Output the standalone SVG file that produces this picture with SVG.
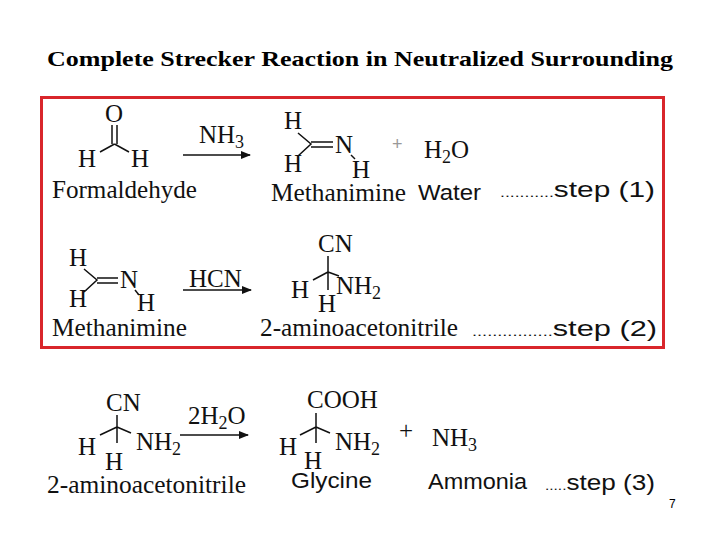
<svg xmlns="http://www.w3.org/2000/svg" width="720" height="540" viewBox="0 0 720 540">
<style>
.t{font-family:"Liberation Serif",serif;font-size:25px;fill:#111}
.s{font-family:"Liberation Sans",sans-serif;font-size:22px;fill:#111}
.b{stroke:#111;stroke-width:1.5;fill:none}
.a{stroke:#111;stroke-width:1.5;marker-end:url(#ar)}
</style>
<defs><marker id="ar" markerWidth="10" markerHeight="8" refX="9" refY="4" orient="auto" markerUnits="userSpaceOnUse"><path d="M0,0L10,4L0,8z" fill="#111"/></marker></defs>
<rect width="720" height="540" fill="#fff"/>
<text x="47" y="66" textLength="626" lengthAdjust="spacingAndGlyphs" style="font-family:'Liberation Serif',serif;font-size:22px;font-weight:bold">Complete Strecker Reaction in Neutralized Surrounding</text>
<rect x="41.5" y="97.5" width="622" height="250" fill="none" stroke="#d9262b" stroke-width="3"/>
<g id="connectors">
<line class="a" x1="183" y1="155" x2="250" y2="155"/>
<line class="a" x1="183" y1="290" x2="251" y2="290"/>
<line class="a" x1="180" y1="435" x2="248" y2="435"/>
</g>
<g id="formaldehyde">
<text class="t" x="105" y="122">O</text>
<path class="b" d="M112,125V144M117,125V144M114.5,144L100,152M114.5,144L129,152"/>
<text class="t" x="78" y="167">H</text><text class="t" x="131" y="167">H</text>
<text class="t" x="52" y="198" textLength="145" lengthAdjust="spacingAndGlyphs">Formaldehyde</text>
</g>
<text class="t" x="199" y="143">NH<tspan font-size="18" dy="5">3</tspan></text>
<g id="methanimine1">
<text class="t" x="284" y="129">H</text><text class="t" x="284" y="172">H</text>
<path class="b" d="M298,133L311,144L298,156M311,142H333M311,147H333"/>
<text class="t" x="335" y="153">N</text><text class="t" x="352" y="178">H</text>
<path class="b" d="M351,155L355,159"/>
<text class="t" x="271" y="201" textLength="135" lengthAdjust="spacingAndGlyphs">Methanimine</text>
</g>
<text x="392" y="150" style="font-family:'Liberation Sans',sans-serif;font-size:18px;fill:#999">+</text>
<g id="water"><text class="t" x="424" y="158">H<tspan font-size="18" dy="5">2</tspan><tspan dy="-5">O</tspan></text>
<text class="s" x="418" y="200" textLength="63" lengthAdjust="spacingAndGlyphs">Water</text></g>
<text class="s" x="500" y="197" textLength="155" lengthAdjust="spacingAndGlyphs"><tspan font-size="13">...........</tspan>step (1)</text>
<g id="methanimine2">
<text class="t" x="69" y="266">H</text><text class="t" x="69" y="307">H</text>
<path class="b" d="M84,269L97,280L84,292M97,278H118M97,283H118"/>
<text class="t" x="120" y="288">N</text><text class="t" x="137" y="311">H</text>
<path class="b" d="M135,290L139,295"/>
<text class="t" x="52" y="336" textLength="135" lengthAdjust="spacingAndGlyphs">Methanimine</text>
</g>
<text class="t" x="189" y="287">HCN</text>
<g id="aminoacetonitrile1">
<text class="t" x="318" y="252">CN</text>
<path class="b" d="M328,256V272M328,272L313,280M328,272L339,276M328,272V290"/>
<text class="t" x="291" y="298">H</text><text class="t" x="336" y="294">NH<tspan font-size="18" dy="5">2</tspan></text>
<text class="t" x="318" y="312">H</text>
<text class="t" x="260" y="336" textLength="198" lengthAdjust="spacingAndGlyphs">2-aminoacetonitrile</text>
</g>
<text class="s" x="472" y="336" textLength="185" lengthAdjust="spacingAndGlyphs"><tspan font-size="13">................</tspan>step (2)</text>
<g id="aminoacetonitrile2">
<text class="t" x="106" y="411">CN</text>
<path class="b" d="M117,415V427M117,427L100,435M117,427L131,433M117,427V443"/>
<text class="t" x="78" y="455">H</text><text class="t" x="136" y="450">NH<tspan font-size="18" dy="5">2</tspan></text>
<text class="t" x="105" y="470">H</text>
<text class="t" x="47" y="493" textLength="199" lengthAdjust="spacingAndGlyphs">2-aminoacetonitrile</text>
</g>
<text class="t" x="188" y="424">2H<tspan font-size="18" dy="5">2</tspan><tspan dy="-5">O</tspan></text>
<g id="glycine">
<text class="t" x="307" y="408">COOH</text>
<path class="b" d="M316,413V427M316,427L300,435M316,427L330,433M316,427V443"/>
<text class="t" x="279" y="455">H</text><text class="t" x="335" y="450">NH<tspan font-size="18" dy="5">2</tspan></text>
<text class="t" x="304" y="469">H</text>
<text class="s" x="291" y="488" textLength="81" lengthAdjust="spacingAndGlyphs">Glycine</text>
</g>
<text class="t" x="399" y="439">+</text>
<g id="ammonia"><text class="t" x="432" y="446">NH<tspan font-size="18" dy="5">3</tspan></text>
<text class="s" x="428" y="489" textLength="99" lengthAdjust="spacingAndGlyphs">Ammonia</text></g>
<text class="s" x="545" y="490" textLength="110" lengthAdjust="spacingAndGlyphs"><tspan font-size="13">.....</tspan>step (3)</text>
<text x="669" y="508" style="font-family:'Liberation Sans',sans-serif;font-size:12px">7</text>
</svg>
